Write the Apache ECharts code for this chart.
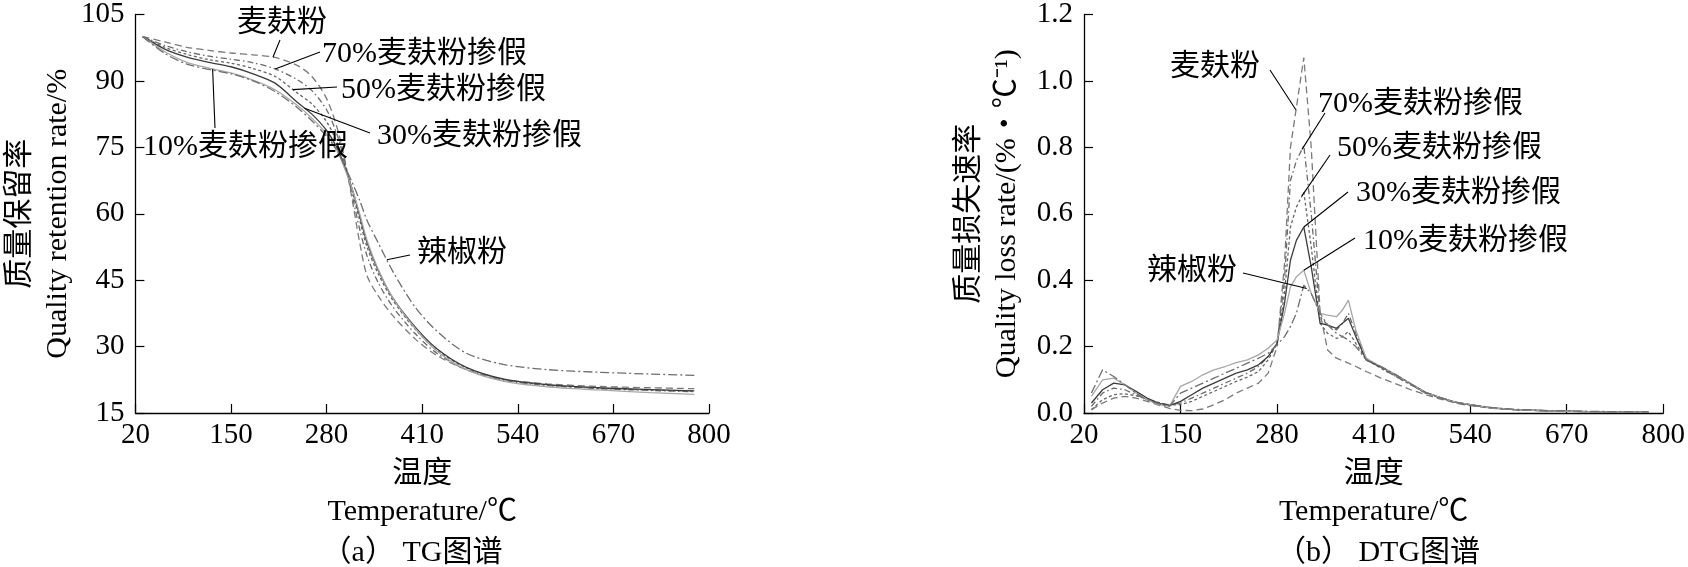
<!DOCTYPE html>
<html><head><meta charset="utf-8">
<script src="https://cdn.jsdelivr.net/npm/echarts@6/dist/echarts.min.js"></script>
<style>html,body{margin:0;padding:0;background:#fff}#c{width:1688px;height:567px}</style>
</head><body><div id="c"></div>
<script>
// ---------- data ----------
const seriesNames = ['麦麸粉', '70%麦麸粉掺假', '50%麦麸粉掺假', '30%麦麸粉掺假', '10%麦麸粉掺假', '辣椒粉'];
const xTicks = [20, 150, 280, 410, 540, 670, 800];

// TG (quality retention rate, %)
const tgTemps = [30, 60, 90, 120, 150, 180, 210, 240, 260, 280, 295, 305, 315, 325, 335, 350, 370, 400, 430, 470, 520, 580, 650, 720, 780];
const tgBran  = [100, 98.8, 97.6, 96.9, 96.3, 95.9, 95.3, 93.5, 91.0, 86.0, 79.0, 72.0, 63.0, 53.5, 46.0, 41.5, 37.0, 31.8, 28.0, 24.8, 22.6, 21.6, 21.0, 20.7, 20.5];
const tg70    = [100, 98.0, 96.6, 95.6, 94.9, 94.1, 92.7, 90.3, 87.8, 83.5, 77.5, 71.5, 64.0, 56.5, 50.5, 44.5, 39.0, 33.0, 28.5, 24.8, 22.4, 21.2, 20.5, 20.1, 19.8];
const tg50    = [100, 97.6, 96.0, 94.8, 94.0, 92.8, 91.0, 87.3, 84.8, 80.8, 75.8, 71.0, 65.0, 58.5, 52.5, 46.5, 40.5, 34.0, 29.2, 25.2, 22.6, 21.3, 20.6, 20.2, 19.9];
const tg30    = [100, 97.2, 95.4, 94.2, 93.2, 91.6, 89.5, 85.2, 82.5, 78.8, 74.6, 70.5, 65.5, 59.5, 53.5, 47.3, 41.0, 34.5, 29.5, 25.3, 22.7, 21.4, 20.7, 20.3, 20.0];
const tg10    = [100, 96.6, 94.2, 92.9, 91.8, 90.2, 88.0, 84.5, 81.6, 78.0, 74.0, 70.0, 65.5, 60.0, 54.0, 47.5, 41.0, 34.2, 29.0, 24.8, 22.2, 20.9, 20.2, 19.6, 19.2];
const tgChili = [100, 96.2, 93.8, 92.6, 91.6, 90.0, 87.6, 84.0, 81.0, 77.5, 74.0, 70.6, 67.0, 63.0, 58.5, 53.5, 47.0, 39.0, 33.5, 28.5, 26.0, 24.8, 24.2, 23.8, 23.5];

// DTG (quality loss rate, %/°C)
const dtgTemps = [30, 45, 60, 75, 90, 105, 120, 135, 150, 165, 180, 195, 210, 225, 240, 255, 268, 280, 290, 298, 306, 316, 326, 338, 348, 360, 368, 376, 386, 400, 420, 440, 460, 480, 500, 520, 540, 570, 600, 650, 700, 780];
const dtgBran  = [0.010,0.030,0.045,0.050,0.045,0.035,0.024,0.014,0.008,0.007,0.012,0.025,0.040,0.060,0.075,0.090,0.120,0.200,0.450,0.800,0.920,1.070,0.800,0.300,0.190,0.165,0.158,0.150,0.140,0.125,0.105,0.088,0.070,0.055,0.042,0.030,0.022,0.014,0.010,0.006,0.004,0.002];
const dtg70    = [0.020,0.060,0.075,0.070,0.055,0.040,0.030,0.025,0.030,0.045,0.060,0.075,0.090,0.105,0.120,0.140,0.170,0.210,0.400,0.700,0.760,0.805,0.600,0.290,0.265,0.250,0.270,0.300,0.240,0.165,0.135,0.110,0.085,0.060,0.045,0.032,0.024,0.015,0.010,0.006,0.004,0.003];
const dtg50    = [0.010,0.040,0.055,0.058,0.052,0.042,0.032,0.024,0.025,0.035,0.050,0.065,0.080,0.095,0.108,0.125,0.160,0.210,0.360,0.560,0.620,0.665,0.500,0.270,0.240,0.225,0.230,0.245,0.210,0.160,0.135,0.110,0.085,0.060,0.045,0.032,0.024,0.015,0.010,0.006,0.004,0.003];
const dtg30    = [0.030,0.070,0.090,0.085,0.065,0.045,0.030,0.022,0.035,0.055,0.075,0.090,0.105,0.120,0.130,0.145,0.170,0.210,0.330,0.460,0.520,0.560,0.440,0.270,0.265,0.255,0.270,0.285,0.230,0.160,0.138,0.115,0.088,0.062,0.046,0.033,0.025,0.015,0.010,0.006,0.004,0.003];
const dtg10    = [0.050,0.100,0.105,0.085,0.060,0.040,0.025,0.020,0.080,0.095,0.115,0.130,0.140,0.152,0.160,0.175,0.195,0.220,0.300,0.380,0.410,0.430,0.360,0.300,0.295,0.290,0.310,0.340,0.250,0.165,0.140,0.115,0.088,0.062,0.046,0.033,0.025,0.015,0.010,0.006,0.004,0.003];
const dtgChili = [0.060,0.130,0.110,0.085,0.060,0.040,0.028,0.020,0.060,0.075,0.090,0.105,0.120,0.135,0.150,0.165,0.180,0.205,0.230,0.260,0.300,0.385,0.360,0.300,0.265,0.240,0.230,0.220,0.200,0.160,0.140,0.115,0.088,0.062,0.046,0.033,0.025,0.016,0.011,0.007,0.005,0.003];

// ---------- styles ----------
const SERIF = "'Liberation Serif','Times New Roman','Noto Sans CJK SC',serif";
const lineStyles = [
  {color: '#7a7a7a', type: [7, 4], width: 1.3},
  {color: '#6a6a6a', type: [6, 3, 1.5, 3], width: 1.3},
  {color: '#666666', type: [3, 2.5], width: 1.3},
  {color: '#3c3c3c', type: 'solid', width: 1.3},
  {color: '#a8a8a8', type: 'solid', width: 1.3},
  {color: '#6e6e6e', type: [9, 3, 2, 3], width: 1.3}
];

const tgSets = [tgBran, tg70, tg50, tg30, tg10, tgChili];
const dtgSets = [dtgBran, dtg70, dtg50, dtg30, dtg10, dtgChili];
function pairs(xs, ys) { return xs.map((x, i) => [x, ys[i]]); }
function interp(xs, ys, x) {
  for (let i = 0; i < xs.length - 1; i++) {
    if (x >= xs[i] && x <= xs[i + 1]) {
      const t = (x - xs[i]) / (xs[i + 1] - xs[i]);
      return ys[i] + t * (ys[i + 1] - ys[i]);
    }
  }
  return ys[ys.length - 1];
}

const series = [];
tgSets.forEach((d, i) => series.push({
  type: 'line', name: seriesNames[i], xAxisIndex: 0, yAxisIndex: 0,
  data: pairs(tgTemps, d), showSymbol: false, smooth: 0.3, lineStyle: lineStyles[i], z: 2
}));
dtgSets.forEach((d, i) => series.push({
  type: 'line', name: seriesNames[i], xAxisIndex: 1, yAxisIndex: 1,
  data: pairs(dtgTemps, d), showSymbol: false, smooth: false, lineStyle: lineStyles[i], z: 2
}));

const axisLine = {show: true, lineStyle: {color: '#000', width: 1.3}};
const tickStyle = {color: '#000', width: 1.2};
const labelFont = {fontSize: 29, fontFamily: SERIF, color: '#000'};
const nameFont = {fontSize: 30, fontFamily: SERIF, color: '#000', lineHeight: 38};

function xAx(g) {
  return {
    gridIndex: g, type: 'value', min: 20, max: 800,
    axisLine: axisLine,
    axisTick: {inside: true, length: 9, lineStyle: tickStyle, customValues: xTicks},
    axisLabel: Object.assign({margin: 8, customValues: xTicks}, labelFont),
    splitLine: {show: false},
    name: '温度\nTemperature/℃', nameLocation: 'middle', nameGap: 36, nameTextStyle: nameFont
  };
}
function yAx(g, min, max, interval, name, gap, fmt) {
  return {
    gridIndex: g, type: 'value', min: min, max: max, interval: interval,
    axisLine: axisLine,
    axisTick: {inside: true, length: 9, lineStyle: tickStyle},
    axisLabel: Object.assign({margin: 11, formatter: fmt}, labelFont),
    splitLine: {show: false},
    name: name, nameLocation: 'middle', nameRotate: 90, nameGap: gap, nameTextStyle: nameFont
  };
}

const chart = echarts.init(document.getElementById('c'), null, {renderer: 'canvas'});
chart.setOption({
  animation: false,
  backgroundColor: '#fff',
  grid: [
    {left: 129, top: 7, width: 580, height: 406},
    {left: 1084, top: 6, width: 582, height: 407}
  ],
  xAxis: [xAx(0), xAx(1)],
  yAxis: [
    yAx(0, 15, 105, 15, '质量保留率\nQuality retention rate/%', 53, v => String(v)),
    yAx(1, 0, 1.2, 0.2, '质量损失速率\nQuality loss rate/(%・℃⁻¹)', 58, v => v.toFixed(1))
  ],
  series: series
});

// ---------- annotations ----------
const annTG = [
  {s: 0, T: 207, tx: 237, ty: 23, lx: 280, ly: 40},
  {s: 1, T: 210, tx: 322, ty: 54, lx: 320, ly: 52},
  {s: 2, T: 234, tx: 341, ty: 90, lx: 337, ly: 87},
  {s: 3, T: 250, tx: 377, ty: 136, lx: 370, ly: 133},
  {s: 4, T: 125, tx: 143, ty: 147, lx: 215, ly: 128},
  {s: 5, T: 362, tx: 417, ty: 253, lx: 410, ly: 255}
];
const annDTG = [
  {s: 0, T: 305.5, tx: 1170, ty: 67, lx: 1270, ly: 70},
  {s: 1, T: 313.5, tx: 1318, ty: 104, lx: 1325, ly: 113},
  {s: 2, T: 313.5, tx: 1337, ty: 148, lx: 1330, ly: 155},
  {s: 3, T: 316, tx: 1356, ty: 193, lx: 1348, ly: 192},
  {s: 4, T: 316, tx: 1363, ty: 241, lx: 1355, ly: 238},
  {s: 5, T: 320, tx: 1147, ty: 271, lx: 1243, ly: 273}
];
const graphics = [];
function addAnn(list, gridIndex, temps, sets) {
  list.forEach(a => {
    const v = interp(temps, sets[a.s], a.T);
    const p = chart.convertToPixel({gridIndex: gridIndex}, [a.T, v]);
    graphics.push({type: 'line', shape: {x1: a.lx, y1: a.ly, x2: p[0], y2: p[1]},
      style: {stroke: '#000', lineWidth: 1.1}, z: 10});
    graphics.push({type: 'text', x: a.tx, y: a.ty, z: 10,
      style: {text: seriesNames[a.s], font: '30px ' + SERIF, fill: '#000', align: 'left', verticalAlign: 'middle'}});
  });
}
addAnn(annTG, 0, tgTemps, tgSets);
addAnn(annDTG, 1, dtgTemps, dtgSets);
graphics.push({type: 'text', x: 412, y: 553, style: {text: '（a） TG图谱', font: '30px ' + SERIF, fill: '#000', align: 'center', verticalAlign: 'middle'}});
graphics.push({type: 'text', x: 1378, y: 553, style: {text: '（b） DTG图谱', font: '30px ' + SERIF, fill: '#000', align: 'center', verticalAlign: 'middle'}});
chart.setOption({graphic: graphics});
</script>
</body></html>
